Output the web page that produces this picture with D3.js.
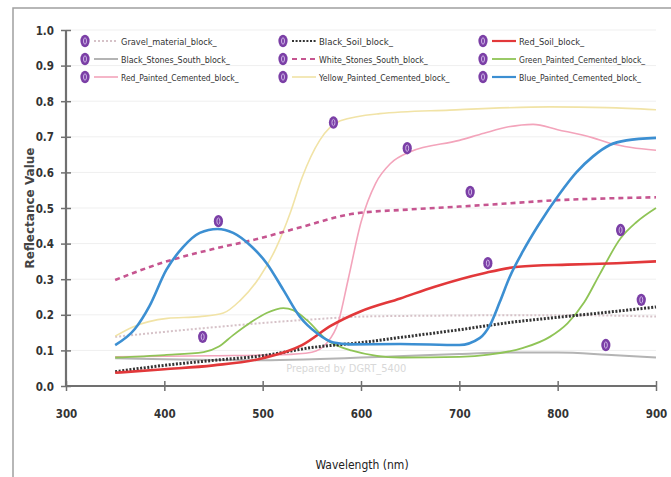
<!DOCTYPE html>
<html><head><meta charset="utf-8">
<script src="https://cdn.jsdelivr.net/npm/d3@7"></script>
<style>
html,body{margin:0;padding:0;background:#fff;}
svg{display:block;}
</style></head>
<body>
<svg id="chart" width="671" height="477"></svg>
<script>
// ---- data ----
const seriesNames = [
  "Gravel_material_block_", "Black_Soil_block_", "Red_Soil_block_",
  "Black_Stones_South_block_", "White_Stones_South_block_", "Green_Painted_Cemented_block_",
  "Red_Painted_Cemented_block_", "Yellow_Painted_Cemented_block_", "Blue_Painted_Cemented_block_"
];
const xTicks = [300, 400, 500, 600, 700, 800, 900];
const yTicks = [0.0, 0.1, 0.2, 0.3, 0.4, 0.5, 0.6, 0.7, 0.8, 0.9, 1.0];
const xLabel = "Wavelength (nm)";
const yLabel = "Reflectance Value";
const watermark = "Prepared by DGRT_5400";

const gravel = [[350,0.138],[400,0.152],[450,0.165],[500,0.177],[550,0.187],[600,0.195],[650,0.197],[700,0.198],[750,0.199],[800,0.199],[850,0.198],[900,0.195]];
const blackSoil = [[350,0.04],[400,0.058],[450,0.072],[500,0.085],[550,0.108],[600,0.122],[650,0.14],[700,0.158],[750,0.178],[800,0.193],[850,0.207],[900,0.222]];
const redSoil = [[350,0.037],[400,0.047],[450,0.058],[500,0.078],[540,0.115],[570,0.17],[600,0.21],[640,0.246],[675,0.279],[725,0.317],[760,0.335],[810,0.341],[860,0.345],[900,0.35]];
const blackStones = [[350,0.078],[400,0.075],[450,0.073],[500,0.072],[550,0.075],[600,0.08],[650,0.085],[700,0.09],[750,0.094],[800,0.094],[850,0.088],[900,0.08]];
const whiteStones = [[350,0.298],[400,0.348],[450,0.385],[490,0.41],[540,0.447],[590,0.483],[650,0.496],[700,0.504],[750,0.513],[800,0.522],[850,0.527],[900,0.53]];
const greenPaint = [[350,0.08],[400,0.087],[440,0.095],[455,0.11],[470,0.143],[487,0.177],[504,0.205],[521,0.219],[531,0.213],[545,0.185],[565,0.13],[590,0.1],[640,0.08],[700,0.082],[730,0.088],[765,0.107],[792,0.138],[810,0.176],[827,0.235],[843,0.315],[864,0.415],[880,0.46],[900,0.5]];
const redPaint = [[350,0.082],[450,0.085],[520,0.088],[550,0.095],[565,0.12],[577,0.18],[587,0.3],[600,0.46],[615,0.57],[630,0.625],[650,0.658],[700,0.69],[725,0.71],[750,0.728],[775,0.735],[800,0.72],[836,0.697],[853,0.682],[875,0.67],[900,0.662]];
const yellowPaint = [[350,0.14],[368,0.166],[403,0.19],[436,0.195],[460,0.205],[477,0.24],[497,0.306],[514,0.39],[528,0.486],[540,0.585],[558,0.69],[579,0.745],[619,0.765],[690,0.775],[792,0.784],[850,0.782],[900,0.776]];
const bluePaint = [[350,0.115],[370,0.16],[385,0.225],[402,0.326],[419,0.39],[436,0.43],[454,0.441],[470,0.43],[487,0.396],[504,0.345],[521,0.27],[538,0.194],[555,0.149],[572,0.122],[589,0.117],[640,0.118],[700,0.115],[721,0.135],[731,0.17],[741,0.235],[751,0.305],[765,0.38],[780,0.45],[802,0.54],[819,0.6],[836,0.645],[853,0.677],[870,0.69],[900,0.697]];

// label marker positions (wavelength, value) per series
const markerX = [439, 885, 729, 849, 711, 864, 647, 572, 455];
const markerY = [0.138, 0.242, 0.345, 0.115, 0.545, 0.438, 0.668, 0.74, 0.463];

const seriesData = [gravel, blackSoil, redSoil, blackStones, whiteStones, greenPaint, redPaint, yellowPaint, bluePaint];
const seriesColor = ["#d6c2c8", "#333333", "#e2383a", "#b4b4b4", "#c65590", "#8fc456", "#f3a4bb", "#f1e3a6", "#3c8fd2"];
const seriesWidth = [2, 3, 2.6, 2, 2.6, 1.8, 1.6, 1.6, 2.6];
const seriesDash = ["2,2", "2,1.6", null, null, "5,4", null, null, null, null];
const drawOrder = [3, 0, 7, 6, 4, 5, 1, 2, 8];

// ---- drawing ----
const svg = d3.select("#chart");
const x = d3.scaleLinear().domain([300, 900]).range([66, 656]);
const y = d3.scaleLinear().domain([0, 1]).range([386, 30]);

// frame
svg.append("rect").attr("x", 13).attr("y", 8).attr("width", 700).attr("height", 500)
  .attr("fill", "none").attr("stroke", "#a0a0a0").attr("stroke-width", 1.5);

// grid
svg.append("g").selectAll("line").data(yTicks.slice(1)).join("line")
  .attr("x1", x(300)).attr("x2", x(900)).attr("y1", d => y(d)).attr("y2", d => y(d))
  .attr("stroke", "#efefef").attr("stroke-width", 1);

// watermark
svg.append("text").attr("x", x(585)).attr("y", y(0.04)).attr("text-anchor", "middle")
  .attr("font-family", "DejaVu Sans Condensed, sans-serif").attr("font-size", 11)
  .attr("fill", "#d8d8d8").text(watermark);

// lines
const line = d3.line().x(d => x(d[0])).y(d => y(d[1])).curve(d3.curveMonotoneX);
const gLines = svg.append("g");
drawOrder.forEach(i => {
  const p = gLines.append("path").datum(seriesData[i]).attr("d", line)
    .attr("fill", "none").attr("stroke", seriesColor[i]).attr("stroke-width", seriesWidth[i])
    .attr("stroke-linejoin", "round");
  if (seriesDash[i]) p.attr("stroke-dasharray", seriesDash[i]);
});

// axes
const axisColor = "#707070";
const xAxis = svg.append("g").attr("transform", `translate(0,${y(0)})`)
  .call(d3.axisBottom(x).tickValues(xTicks).tickSize(5).tickFormat(d3.format("d")));
xAxis.selectAll(".tick line").attr("y1", -5).attr("y2", 5);
const yAxis = svg.append("g").attr("transform", `translate(${x(300)},0)`)
  .call(d3.axisLeft(y).tickValues(yTicks).tickSize(5).tickFormat(d3.format(".1f")));
yAxis.selectAll(".tick line").attr("x1", -5).attr("x2", 5);
[xAxis, yAxis].forEach(a => {
  a.select(".domain").attr("stroke", axisColor).attr("stroke-width", 2.2);
  a.selectAll(".tick line").attr("stroke", axisColor).attr("stroke-width", 1.5);
  a.selectAll(".tick text").attr("fill", "#333").attr("font-size", 11.5)
    .attr("font-family", "DejaVu Sans Condensed, sans-serif").attr("font-weight", "bold");
});
xAxis.selectAll(".tick text").attr("dy", null).attr("y", 32);
yAxis.selectAll(".tick text").attr("x", -12).attr("dy", "0.35em");
xAxis.select(".domain").attr("d", `M${x(300)},0H${x(900)}`);
yAxis.select(".domain").attr("d", `M0,${y(0)}V${y(1)}`);

// axis titles
svg.append("text").attr("x", 362).attr("y", 469).attr("text-anchor", "middle")
  .attr("font-family", "DejaVu Sans Condensed, sans-serif").attr("font-size", 12)
  .attr("fill", "#222").text(xLabel);
svg.append("text").attr("transform", `translate(34,${y(0.5)}) rotate(-90)`).attr("text-anchor", "middle")
  .attr("font-family", "DejaVu Sans, sans-serif").attr("font-size", 12).attr("font-weight", "bold")
  .attr("fill", "#444").text(yLabel);

// markers
function marker(g, cx, cy) {
  g.append("ellipse").attr("cx", cx).attr("cy", cy).attr("rx", 4.6).attr("ry", 6.2).attr("fill", "#7b3fa6");
  g.append("ellipse").attr("cx", cx).attr("cy", cy).attr("rx", 1.5).attr("ry", 3.2)
    .attr("fill", "none").attr("stroke", "#cdb4e6").attr("stroke-width", 1);
}
const gM = svg.append("g");
markerX.forEach((mx, i) => marker(gM, x(mx), y(markerY[i])));

// legend
const colX = [85, 283, 483];
const rowY = [41, 59, 77];
const gL = svg.append("g");
seriesNames.forEach((name, i) => {
  const cx = colX[i % 3], cy = rowY[Math.floor(i / 3)];
  marker(gL, cx, cy);
  const l = gL.append("line").attr("x1", cx + 9).attr("x2", cx + 33).attr("y1", cy).attr("y2", cy)
    .attr("stroke", seriesColor[i]).attr("stroke-width", Math.min(seriesWidth[i], 2.2));
  if (seriesDash[i]) l.attr("stroke-dasharray", seriesDash[i]);
  gL.append("text").attr("x", cx + 36).attr("y", cy + 3.5)
    .attr("font-family", "DejaVu Sans Condensed, sans-serif").attr("font-size", 9)
    .attr("fill", "#333").attr("textLength", name.length * 4.35).attr("lengthAdjust", "spacingAndGlyphs")
    .text(name);
});
</script>
</body></html>
